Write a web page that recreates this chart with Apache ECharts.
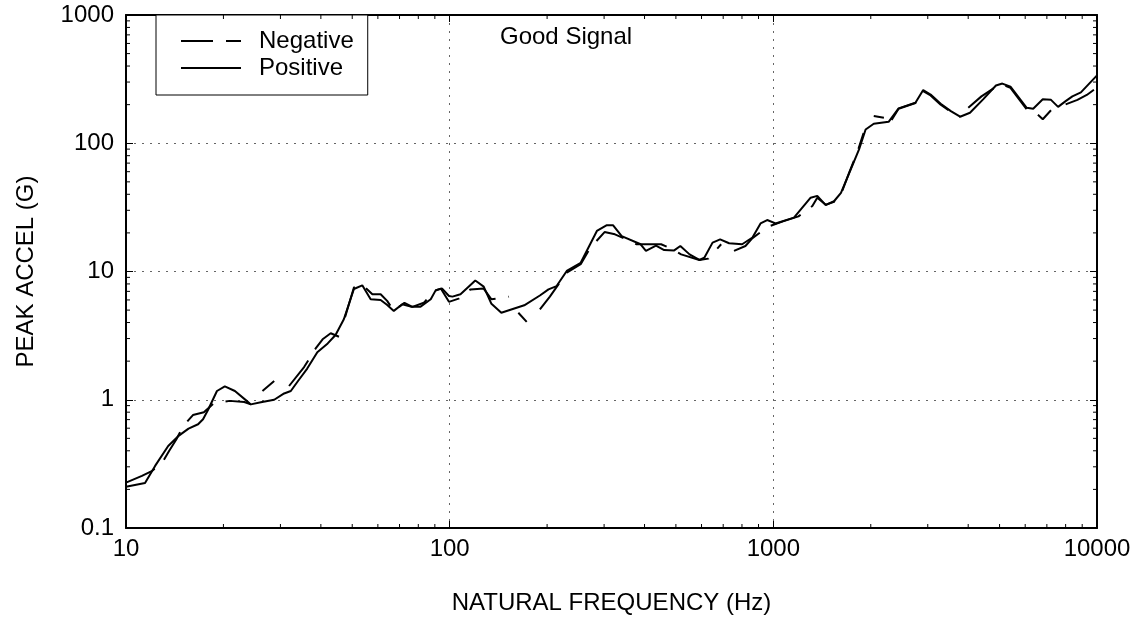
<!DOCTYPE html>
<html><head><meta charset="utf-8">
<script src="https://cdn.jsdelivr.net/npm/echarts@6/dist/echarts.min.js"></script>
<style>html,body{margin:0;padding:0;background:#fff}#c{width:1140px;height:621px}</style>
</head><body><div id="c"></div>
<script>
const posFreq = [10, 11.45, 12.3, 13.5, 14.5, 15.6, 16.7, 17.3, 17.95, 19.1, 20.2, 21.7, 23.6, 24.3, 26.1, 28.7, 30.8, 32.3, 34, 36.3, 39, 42, 44.4, 47.1, 50.6, 53.7, 57, 61.2, 64, 67.2, 71.4, 75.8, 81.3, 87.4, 90.6, 94.8, 99.5, 102, 108, 120, 127.4, 134.6, 144.4, 170, 190, 202, 214, 230, 254, 285, 305, 320, 340, 389, 404, 434, 460, 494, 516, 551, 591, 612, 649, 685, 730, 801, 862, 913, 957, 1016, 1158, 1304, 1367, 1452, 1540, 1618, 1736, 1840, 1928, 2043, 2271, 2438, 2748, 2904, 3061, 3289, 3535, 3776, 4051, 4447, 4873, 5101, 5403, 6065, 6351, 6799, 7209, 7582, 8001, 8393, 8918, 10000];
const posVal = [0.21, 0.224, 0.305, 0.436, 0.52, 0.596, 0.644, 0.705, 0.84, 1.17, 1.27, 1.17, 0.98, 0.92, 0.955, 1.0, 1.12, 1.17, 1.4, 1.75, 2.35, 2.75, 3.2, 4.24, 7.3, 7.8, 6.07, 6.0, 5.5, 4.93, 5.55, 5.32, 5.32, 6.07, 7.16, 7.36, 6.44, 6.37, 6.64, 8.5, 7.63, 5.6, 4.77, 5.45, 6.5, 7.25, 7.7, 10.1, 11.7, 20.7, 22.9, 22.9, 18.9, 16.3, 14.5, 15.9, 14.7, 14.6, 15.8, 13.6, 12.3, 12.8, 16.8, 17.8, 16.6, 16.3, 18.4, 23.7, 25.2, 23.7, 26.3, 37.6, 38.9, 32.9, 35.3, 41.1, 62.8, 89.5, 128, 142, 147, 187, 207, 260, 240, 203, 178, 161, 173, 220, 282, 292, 276, 189, 186, 220, 218, 192, 213, 232, 249, 338];

const negFreq = [10, 11.2, 12.05, 13.0, 13.6, 14.3, 15.0, 16.1, 17.4, 18.7, 20.9, 23.2, 24.3, 25.3, 26.4, 28.7, 30.2, 31.9, 35.5, 38.5, 40.5, 42.9, 45.5, 46.5, 47.5, 50.6, 53.7, 57.7, 61.2, 64.1, 67.2, 72.5, 76.7, 83.2, 89.6, 93.9, 99.5, 106.6, 116, 127.4, 134.6, 152.5, 158, 163, 173, 182, 190, 204, 230, 254, 272, 301, 324, 345, 378, 450, 478, 519, 591, 630, 690, 720, 756, 820, 862, 924, 980, 1076, 1196, 1320, 1367, 1452, 1540, 1618, 1720, 1820, 1900, 1980, 2043, 2196, 2240, 2320, 2438, 2748, 2904, 3061, 3289, 3535, 3776, 3900, 4002, 4395, 4873, 5101, 5403, 6065, 6426, 6799, 7209, 7600, 8001, 8700, 9300, 10000];
const negVal = [0.226, 0.255, 0.279, 0.33, 0.40, 0.49, 0.62, 0.76, 0.80, 0.94, 0.98, 0.96, 0.92, null, 1.17, 1.40, null, 1.28, 1.80, 2.50, 2.96, 3.30, 3.10, null, 4.4, 7.5, 7.9, 6.64, 6.64, 5.9, 4.93, 5.7, 5.3, 5.7, 7.05, 7.36, 5.8, 6.14, 7.25, 7.36, 6.07, 6.37, null, 4.77, 4.05, null, 5.07, 6.37, 9.8, 11.4, 15.3, 20.3, 19.5, 18.2, 16.3, 16.3, 15.3, 13.6, 12.3, 12.6, 16.3, null, 14.5, 15.8, 18.2, 20.7, 22.7, 24.7, 26.9, 32.4, 37.6, 33.2, 35.0, 40.0, 60, 86, 120, null, 163, 158, null, 152, 186, 206, 255, 236, 200, 176, 160, null, 189, 232, 276, 287, 270, 184, 176, 154, 181, null, 201, 218, 238, 272];

const xTicks = [10, 100, 1000, 10000];
const xTickLabels = ['10', '100', '1000', '10000'];
const yTicks = [0.1, 1, 10, 100, 1000];
const yTickLabels = ['0.1', '1', '10', '100', '1000'];
const minorMult = [2, 3, 4, 5, 6, 7, 8, 9];
const xDecades = [10, 100, 1000];
const yDecades = [0.1, 1, 10, 100];

const xMinor = [];
xDecades.forEach(d => minorMult.forEach(m => xMinor.push(+(d * m).toPrecision(4))));
const yMinor = [];
yDecades.forEach(d => minorMult.forEach(m => yMinor.push(+(d * m).toPrecision(4))));

const FONT = "'Liberation Sans', Arial, Helvetica, sans-serif";
function fmt(ticks, labels) {
  return v => {
    let best = 0, bd = Infinity;
    ticks.forEach((t, i) => { const d = Math.abs(Math.log10(v) - Math.log10(t)); if (d < bd) { bd = d; best = i; } });
    return labels[best];
  };
}
const axisLine = { show: true, onZero: false, lineStyle: { color: '#000', width: 2 } };
const majorTick = { show: true, inside: true, length: 7, lineStyle: { color: '#000', width: 1 } };
const gridLine = { show: true, lineStyle: { color: '#666', width: 1, type: [2, 6] } };

const chart = echarts.init(document.getElementById('c'), null, { renderer: 'canvas' });
chart.setOption({
  animation: false,
  backgroundColor: '#fff',
  textStyle: { fontFamily: FONT },
  grid: { left: 126, right: 43, top: 15, bottom: 93, containLabel: false },
  title: {
    text: 'Good Signal', left: 500, top: 25, padding: 0,
    textStyle: { fontSize: 24, fontWeight: 'normal', color: '#000', fontFamily: FONT }
  },
  legend: {
    data: ['Negative', 'Positive'],
    orient: 'vertical', left: 156, top: 15,
    padding: [14, 14, 15, 24],
    itemGap: 3, itemWidth: 60, itemHeight: 14,
    borderColor: '#000', borderWidth: 1, backgroundColor: '#fff',
    itemStyle: { opacity: 0 },
    lineStyle: { width: 2, color: '#000' },
    textStyle: { fontSize: 24, lineHeight: 24, color: '#000', fontFamily: FONT, padding: [0, 0, 0, 13] },
    selectedMode: false
  },
  xAxis: [{
    type: 'log', logBase: 10, min: 10, max: 10000, position: 'bottom',
    axisLine: axisLine, axisTick: majorTick,
    axisLabel: { formatter: fmt(xTicks, xTickLabels), fontSize: 24, color: '#000', margin: 9, fontFamily: FONT, showMinLabel: true, showMaxLabel: true },
    splitLine: gridLine,
    name: 'NATURAL FREQUENCY (Hz)', nameLocation: 'middle', nameGap: 63,
    nameTextStyle: { fontSize: 24, color: '#000', fontFamily: FONT }
  }, {
    type: 'log', logBase: 10, min: 10, max: 10000, position: 'top',
    axisLine: axisLine, axisTick: majorTick, axisLabel: { show: false }, splitLine: { show: false }
  }],
  yAxis: [{
    type: 'log', logBase: 10, min: 0.1, max: 1000, position: 'left',
    axisLine: axisLine, axisTick: majorTick,
    axisLabel: { formatter: fmt(yTicks, yTickLabels), fontSize: 24, color: '#000', margin: 12, fontFamily: FONT, showMinLabel: true, showMaxLabel: true },
    splitLine: gridLine,
    name: 'PEAK ACCEL (G)', nameLocation: 'middle', nameGap: 88,
    nameTextStyle: { fontSize: 24, color: '#000', fontFamily: FONT }
  }, {
    type: 'log', logBase: 10, min: 0.1, max: 1000, position: 'right',
    axisLine: axisLine, axisTick: majorTick, axisLabel: { show: false }, splitLine: { show: false }
  }],
  series: [
    {
      name: 'Negative', type: 'line', xAxisIndex: 0, yAxisIndex: 0,
      data: negFreq.map((f, i) => [f, negVal[i]]),
      symbol: 'none', showSymbol: false, connectNulls: false, silent: true,
      lineStyle: { color: '#000', width: 2, type: [32, 13] }, itemStyle: { color: '#000' }, z: 3
    },
    {
      name: 'Positive', type: 'line', xAxisIndex: 0, yAxisIndex: 0,
      data: posFreq.map((f, i) => [f, posVal[i]]),
      symbol: 'none', showSymbol: false, silent: true,
      lineStyle: { color: '#000', width: 2, type: 'solid' }, itemStyle: { color: '#000' }, z: 4
    },
    {
      name: 'xMinorTicks', type: 'custom', xAxisIndex: 0, yAxisIndex: 0, silent: true,
      data: xMinor.map(v => [v, 1]),
      renderItem: (params, api) => {
        const x = api.value(0);
        const b = api.coord([x, 0.1]);
        const t = api.coord([x, 1000]);
        const st = { stroke: '#000', lineWidth: 1 };
        return { type: 'group', children: [
          { type: 'line', shape: { x1: b[0], y1: b[1], x2: b[0], y2: b[1] - 4 }, style: st },
          { type: 'line', shape: { x1: t[0], y1: t[1], x2: t[0], y2: t[1] + 4 }, style: st }
        ] };
      }, z: 5
    },
    {
      name: 'yMinorTicks', type: 'custom', xAxisIndex: 0, yAxisIndex: 0, silent: true,
      data: yMinor.map(v => [10, v]),
      renderItem: (params, api) => {
        const y = api.value(1);
        const l = api.coord([10, y]);
        const r = api.coord([10000, y]);
        const st = { stroke: '#000', lineWidth: 1 };
        return { type: 'group', children: [
          { type: 'line', shape: { x1: l[0], y1: l[1], x2: l[0] + 4, y2: l[1] }, style: st },
          { type: 'line', shape: { x1: r[0], y1: r[1], x2: r[0] - 4, y2: r[1] }, style: st }
        ] };
      }, z: 5
    }
  ]
});
</script>
</body></html>
